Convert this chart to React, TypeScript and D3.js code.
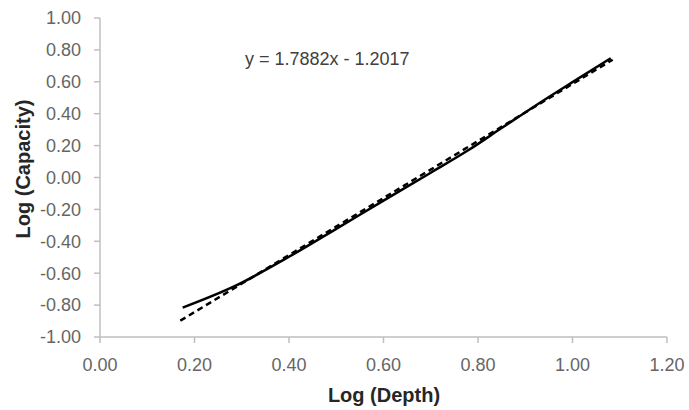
import React from "react";
import * as d3 from "d3";

const depthLog = [0.175, 0.286, 0.4, 0.5, 0.6, 0.7, 0.78, 0.85, 0.95, 1.0, 1.081];
const capacityLog = [-0.816, -0.68, -0.497, -0.322, -0.145, 0.03, 0.172, 0.31, 0.505, 0.598, 0.748];
const trendSlope = 1.7882;
const trendIntercept = -1.2017;
const trendRange = [0.17, 1.085];
const xTicks = [0, 0.2, 0.4, 0.6, 0.8, 1.0, 1.2];
const yTicks = [1.0, 0.8, 0.6, 0.4, 0.2, 0.0, -0.2, -0.4, -0.6, -0.8, -1.0];
const equationLabel = "y = 1.7882x - 1.2017";
const xTitle = "Log (Depth)";
const yTitle = "Log (Capacity)";

export default function App() {
  const W = 689;
  const H = 410;
  const x = d3.scaleLinear().domain([0, 1.2]).range([100, 667]);
  const y = d3.scaleLinear().domain([-1, 1]).range([337, 18]);
  const pts: [number, number][] = depthLog.map((d, i) => [d, capacityLog[i]]);
  const line = d3
    .line<[number, number]>()
    .x((d) => x(d[0]))
    .y((d) => y(d[1]))
    .curve(d3.curveMonotoneX);
  const trendPts: [number, number][] = trendRange.map((d) => [d, trendSlope * d + trendIntercept]);
  const trendLine = d3
    .line<[number, number]>()
    .x((d) => x(d[0]))
    .y((d) => y(d[1]));
  const axisColor = "#bfbfbf";
  const labelColor = "#666666";
  const font = "'Liberation Sans', Arial, sans-serif";
  return (
    <svg
      width={W}
      height={H}
      style={{ position: "absolute", left: 0, top: 0, background: "#fff" }}
      fontFamily={font}
    >
      <rect x={0} y={0} width={W} height={H} fill="#fff" />
      <line x1={x(0)} x2={x(0)} y1={y(1)} y2={y(-1)} stroke={axisColor} strokeWidth={1.5} />
      <line x1={x(0)} x2={x(1.2)} y1={y(-1)} y2={y(-1)} stroke={axisColor} strokeWidth={1.5} />
      {yTicks.map((t) => (
        <g key={"y" + t}>
          <line x1={x(0) - 6} x2={x(0)} y1={y(t)} y2={y(t)} stroke={axisColor} strokeWidth={1.5} />
          <text x={81} y={y(t)} dy="0.35em" textAnchor="end" fontSize={18} fill={labelColor}>
            {t.toFixed(2)}
          </text>
        </g>
      ))}
      {xTicks.map((t) => (
        <g key={"x" + t}>
          <line x1={x(t)} x2={x(t)} y1={y(-1)} y2={y(-1) + 6} stroke={axisColor} strokeWidth={1.5} />
          <text x={x(t)} y={371} textAnchor="middle" fontSize={18} fill={labelColor}>
            {t.toFixed(2)}
          </text>
        </g>
      ))}
      <path
        d={trendLine(trendPts) || ""}
        fill="none"
        stroke="#000"
        strokeWidth={2.5}
        strokeDasharray="6,4"
      />
      <path d={line(pts) || ""} fill="none" stroke="#000" strokeWidth={2.5} />
      <text x={245} y={65} fontSize={18} fill="#404040">
        {equationLabel}
      </text>
      <text x={384} y={402} textAnchor="middle" fontSize={20} fontWeight="bold" fill="#262626">
        {xTitle}
      </text>
      <text
        transform="translate(30,169) rotate(-90)"
        textAnchor="middle"
        fontSize={20}
        fontWeight="bold"
        fill="#262626"
      >
        {yTitle}
      </text>
    </svg>
  );
}
